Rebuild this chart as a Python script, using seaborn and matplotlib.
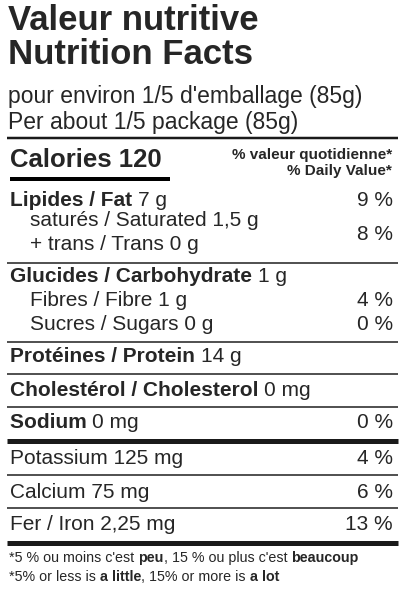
import matplotlib
matplotlib.use("Agg")
import matplotlib.pyplot as plt
import seaborn as sns

sns.set_theme(style="white")
plt.rcParams['font.family'] = ['Liberation Sans', 'DejaVu Sans']

title_fr = "Valeur nutritive"
title_en = "Nutrition Facts"
serving_fr = "pour environ 1/5 d'emballage (85g)"
serving_en = "Per about 1/5 package (85g)"
calories = 120
dv_header = ["% valeur quotidienne*", "% Daily Value*"]

# rows: (bold part, regular part, %DV, y, indent)
row_bold = ["Lipides / Fat", "", "", "Glucides / Carbohydrate", "", "",
            "Protéines / Protein", "Cholestérol / Cholesterol", "Sodium",
            "", "", ""]
row_regular = ["7 g", "saturés / Saturated 1,5 g", "+ trans / Trans 0 g",
               "1 g", "Fibres / Fibre 1 g", "Sucres / Sugars 0 g",
               "14 g", "0 mg", "0 mg",
               "Potassium 125 mg", "Calcium 75 mg", "Fer / Iron 2,25 mg"]
row_dv = ["9 %", "", "", "", "4 %", "0 %", "", "", "0 %", "4 %", "6 %", "13 %"]
row_y = [200, 221, 245, 277, 301, 325, 357, 390, 422, 459, 492, 524]
row_indent = [0, 1, 1, 0, 1, 1, 0, 0, 0, 0, 0, 0]
sat_trans_dv = "8 %"

# separators: (y, thickness px)
sep_y = [138, 263, 342, 374, 407, 441, 475, 508, 543]
sep_w = [2.5, 1.5, 1.5, 1.5, 1.5, 5, 1.5, 1.5, 5]

fig = plt.figure(figsize=(4.03, 5.89), dpi=100)
ax = fig.add_axes([0, 0, 1, 1])
ax.set_xlim(0, 403)
ax.set_ylim(589, 0)
ax.axis("off")

L, R = 8, 398
ax.text(L, 20, title_fr, fontsize=25, fontweight="bold", va="center")
ax.text(L, 55, title_en, fontsize=25, fontweight="bold", va="center")
ax.text(L, 97, serving_fr, fontsize=16.5, va="center")
ax.text(L, 123, serving_en, fontsize=16.5, va="center")

for y, w in zip(sep_y, sep_w):
    ax.plot([L - 1, R], [y, y], color="#1a1a1a", lw=w * 0.72, solid_capstyle="butt")

ax.text(10, 160, f"Calories {calories}", fontsize=18.5, fontweight="bold", va="center")
ax.plot([10, 170], [179, 179], color="black", lw=4 * 0.72, solid_capstyle="butt")
ax.text(392, 155, dv_header[0], fontsize=11, fontweight="bold", va="center", ha="right")
ax.text(392, 171, dv_header[1], fontsize=11, fontweight="bold", va="center", ha="right")

for b, r, d, y, ind in zip(row_bold, row_regular, row_dv, row_y, row_indent):
    x = L + 2 + ind * 20
    if b:
        t = ax.text(x, y, b + " ", fontsize=15, fontweight="bold", va="center")
        ax.annotate(r, xy=(1, 0.5), xycoords=t, fontsize=15, va="center", ha="left")
    else:
        ax.text(x, y, r, fontsize=15, va="center")
    if d:
        ax.text(393, y, d, fontsize=15, va="center", ha="right")
ax.text(393, 234, sat_trans_dv, fontsize=15, va="center", ha="right")

fn = ['Liberation Sans Narrow', 'Liberation Sans']
foot = [[("*5 % ou moins c'est ", "normal"), ("peu", "bold"), (", 15 % ou plus c'est ", "normal"), ("beaucoup", "bold")],
        [("*5% or less is ", "normal"), ("a little", "bold"), (", 15% or more is ", "normal"), ("a lot", "bold")]]
for parts, y in zip(foot, [558, 577]):
    prev = None
    for s, wgt in parts:
        if prev is None:
            prev = ax.text(L + 1, y, s, fontsize=10.3, fontweight=wgt, family=fn, va="center")
        else:
            prev = ax.annotate(s, xy=(1, 0.5), xycoords=prev, fontsize=10.3, fontweight=wgt,
                               family=fn, va="center", ha="left")

fig.savefig("out.png", dpi=100)
